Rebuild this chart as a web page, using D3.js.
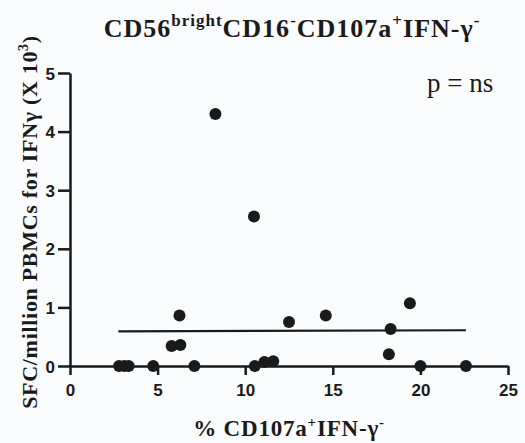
<!DOCTYPE html>
<html>
<head>
<meta charset="utf-8">
<script src="https://cdn.jsdelivr.net/npm/d3@7"></script>
<style>
  html, body { margin: 0; padding: 0; background: #fbfcfe; }
  svg { display: block; }
</style>
</head>
<body>
<script>
// % CD107a+IFN-g- (x) vs SFC/million PBMCs for IFNg, x10^3 (y)
const pctCD107a = [2.8, 3.1, 3.35, 4.75, 5.8, 6.3, 6.25, 7.1, 8.3, 10.5, 10.55, 11.1, 11.6, 12.5, 14.6, 18.2, 18.3, 19.4, 20.0, 22.6];
const sfcIFNg   = [0,   0,   0,    0,    0.34, 0.36, 0.86, 0,  4.30, 2.55, 0,     0.07, 0.08, 0.75, 0.86, 0.20, 0.63, 1.07, 0,    0];

// regression line endpoints (p = ns)
const fitX = [2.76, 22.6];
const fitY = [0.59, 0.61];

const xTicks = [0, 5, 10, 15, 20, 25];
const yTicks = [0, 1, 2, 3, 4, 5];

const W = 525, H = 443;
const margin = {top: 73, right: 17, bottom: 77, left: 70};
const width = W - margin.left - margin.right,
      height = H - margin.top - margin.bottom;

const svg = d3.select("body").append("svg")
  .attr("width", W)
  .attr("height", H);

const g = svg.append("g")
  .attr("transform", "translate(" + margin.left + "," + margin.top + ")");

const x = d3.scaleLinear().domain([0, 25]).range([0, width]);
const y = d3.scaleLinear().domain([0, 5]).range([height, 0]);

const ink = "#1a1a1a";

// axes
const xAxis = g.append("g")
  .attr("transform", "translate(0," + height + ")")
  .call(d3.axisBottom(x).tickValues(xTicks).tickFormat(d3.format("d"))
    .tickSize(9).tickPadding(9).tickSizeOuter(0));
const yAxis = g.append("g")
  .call(d3.axisLeft(y).tickValues(yTicks).tickFormat(d3.format("d"))
    .tickSize(12).tickPadding(3).tickSizeOuter(0));

[xAxis, yAxis].forEach(a => {
  a.select(".domain").attr("stroke", ink).attr("stroke-width", 2.5);
  a.selectAll(".tick line").attr("stroke", ink).attr("stroke-width", 2.5);
  a.selectAll(".tick text")
    .attr("fill", ink)
    .style("font-family", "'Liberation Sans', Arial, sans-serif")
    .style("font-weight", "bold")
    .style("font-size", "17px");
});
yAxis.selectAll(".tick text").attr("dy", "0.36em");

// regression line
g.append("line")
  .attr("x1", x(fitX[0])).attr("y1", y(fitY[0]))
  .attr("x2", x(fitX[1])).attr("y2", y(fitY[1]))
  .attr("stroke", ink)
  .attr("stroke-width", 2.2);

// points
g.selectAll("circle.pt")
  .data(pctCD107a.map((v, i) => ({x: v, y: sfcIFNg[i]})))
  .enter().append("circle")
  .attr("class", "pt")
  .attr("cx", d => x(d.x))
  .attr("cy", d => y(d.y))
  .attr("r", 6)
  .attr("fill", ink);

const serif = "'Liberation Serif', 'Times New Roman', serif";

// title
const title = svg.append("text")
  .attr("x", 292).attr("y", 37)
  .attr("text-anchor", "middle")
  .style("font-family", serif)
  .style("font-weight", "bold")
  .style("font-size", "26px")
  .style("letter-spacing", "1px")
  .attr("fill", ink);
title.append("tspan").text("CD56");
title.append("tspan").attr("dy", -11).style("font-size", "17px").text("bright");
title.append("tspan").attr("dy", 11).text("CD16");
title.append("tspan").attr("dy", -11).style("font-size", "17px").text("-");
title.append("tspan").attr("dy", 11).text("CD107a");
title.append("tspan").attr("dy", -11).style("font-size", "17px").text("+");
title.append("tspan").attr("dy", 11).text("IFN-\u03b3");
title.append("tspan").attr("dy", -11).style("font-size", "17px").text("-");

// x label
const xl = svg.append("text")
  .attr("x", 289).attr("y", 436)
  .attr("text-anchor", "middle")
  .style("font-family", serif)
  .style("font-weight", "bold")
  .style("font-size", "23px")
  .style("letter-spacing", "0.8px")
  .attr("fill", ink);
xl.append("tspan").text("% CD107a");
xl.append("tspan").attr("dy", -9).style("font-size", "15px").text("+");
xl.append("tspan").attr("dy", 9).text("IFN-\u03b3");
xl.append("tspan").attr("dy", -9).style("font-size", "15px").text("-");

// y label
const yl = svg.append("text")
  .attr("transform", "translate(37," + 222 + ") rotate(-90)")
  .attr("text-anchor", "middle")
  .style("font-family", serif)
  .style("font-weight", "bold")
  .style("font-size", "22px")
  .style("letter-spacing", "0.7px")
  .attr("fill", ink);
yl.append("tspan").text("SFC/million PBMCs for IFN\u03b3 (X 10");
yl.append("tspan").attr("dy", -9).style("font-size", "14px").text("3");
yl.append("tspan").attr("dy", 9).text(")");

// p value
svg.append("text")
  .attr("x", 427).attr("y", 92)
  .style("font-family", serif)
  .style("font-size", "27px")
  .attr("fill", ink)
  .text("p = ns");
</script>
</body>
</html>
